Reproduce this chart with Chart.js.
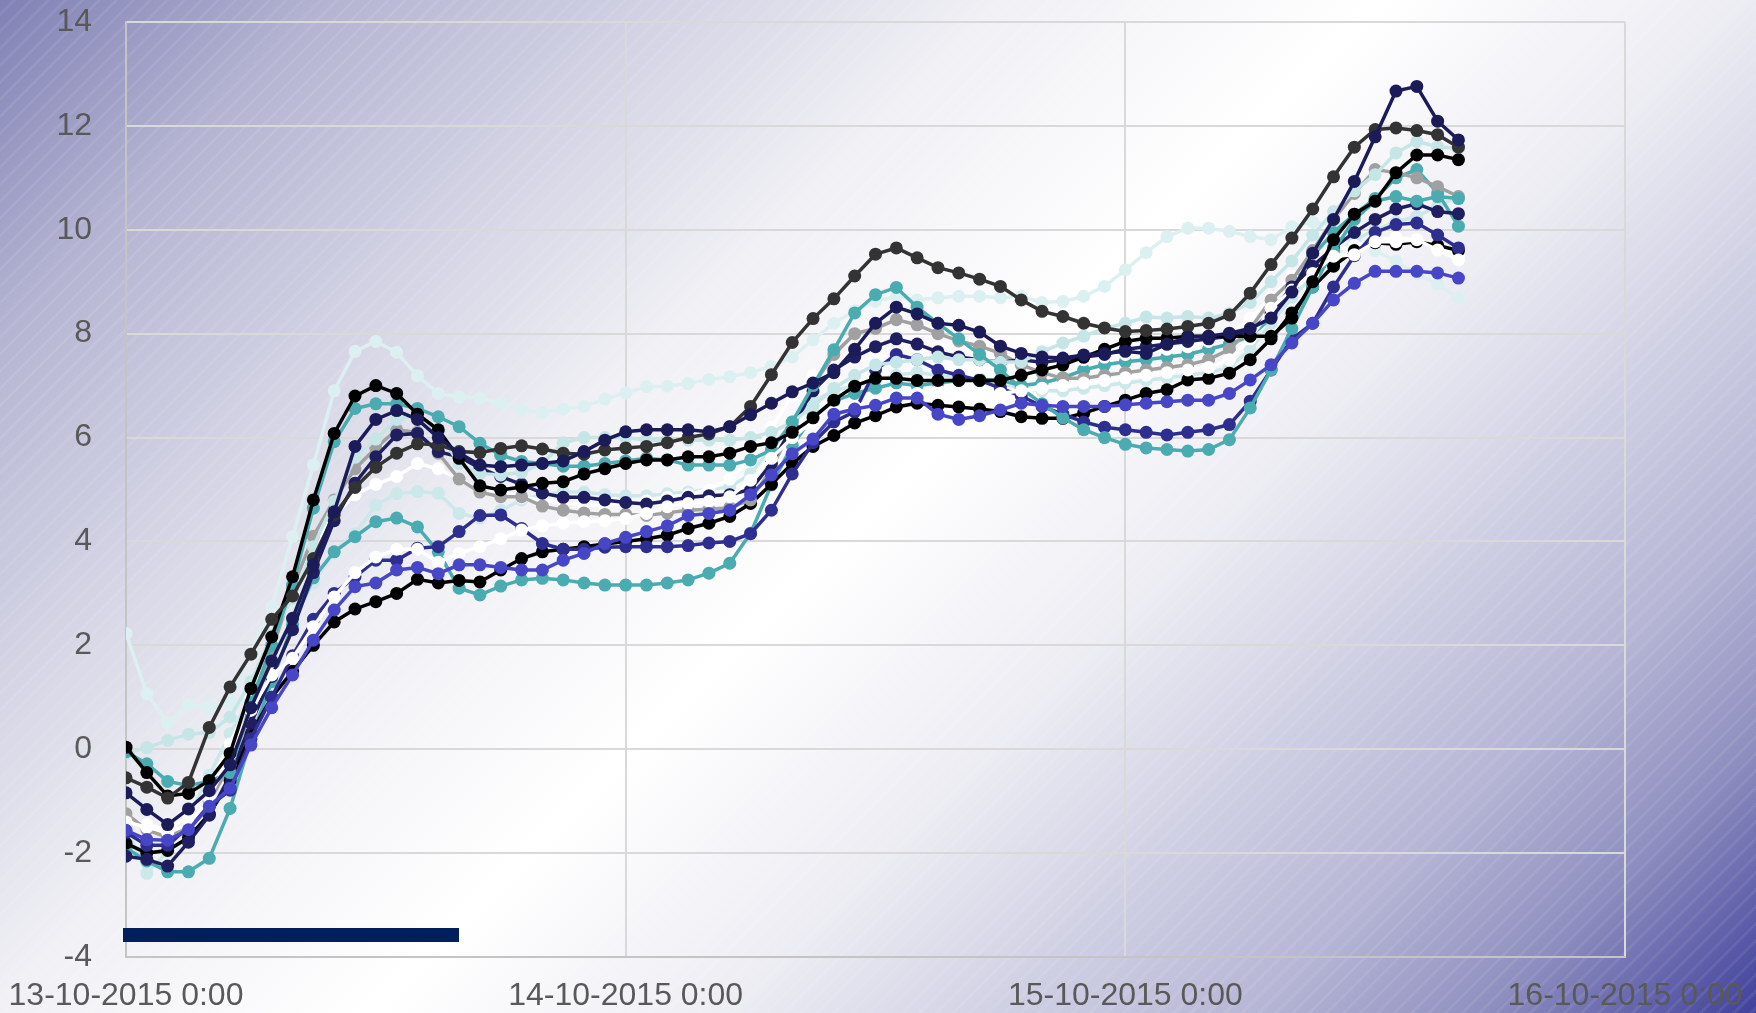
<!DOCTYPE html>
<html>
<head>
<meta charset="utf-8">
<script src="https://cdn.jsdelivr.net/npm/chart.js@4.4.0/dist/chart.umd.min.js"></script>
<style>
  html, body { margin: 0; padding: 0; overflow: hidden; }
  body {
    width: 1756px;
    height: 1013px;
    background:
      repeating-linear-gradient(135deg, rgba(255,255,255,0) 0px, rgba(255,255,255,0) 9px, rgba(255,255,255,0.07) 9px, rgba(255,255,255,0.07) 12px),
      linear-gradient(135deg, #8080b5 0%, #b4b4d2 12%, #f0f0f5 36%, #ffffff 50%, #ececf3 63%, #b5b5d5 82%, #9090c0 90%, #40409c 100%);
  }
  #wrap { position: relative; width: 1756px; height: 1013px; }
</style>
</head>
<body>
<div id="wrap"><canvas id="chart" width="1756" height="1013"></canvas></div>
<script>
// ----------------------------- Data -----------------------------------------
// hours since 13-10-2015 0:00
const hours = [0,1,2,3,4,5,6,7,8,9,10,11,12,13,14,15,16,17,18,19,20,21,22,23,24,
  25,26,27,28,29,30,31,32,33,34,35,36,37,38,39,40,41,42,43,44,45,46,47,48,49,
  50,51,52,53,54,55,56,57,58,59,60,61,62,63,64];

const xTickLabels = ["13-10-2015 0:00", "14-10-2015 0:00", "15-10-2015 0:00", "16-10-2015 0:00"];

const darkGray = [-0.55,-0.73,-0.94,-0.64,0.42,1.20,1.83,2.50,2.95,3.67,
  4.51,5.04,5.43,5.70,5.88,5.86,5.73,5.71,5.79,5.84,
  5.78,5.70,5.68,5.76,5.80,5.83,5.90,6.00,6.07,6.21,
  6.60,7.21,7.83,8.29,8.67,9.11,9.53,9.65,9.46,9.27,
  9.17,9.05,8.91,8.65,8.43,8.33,8.20,8.11,8.04,8.06,
  8.09,8.14,8.20,8.36,8.78,9.33,9.84,10.40,11.02,11.59,
  11.93,11.96,11.91,11.83,11.59];

const paleCyan = [2.23,1.07,0.51,0.85,0.80,0.90,1.87,2.75,4.09,5.47,
  6.90,7.66,7.85,7.64,7.19,6.85,6.78,6.76,6.66,6.53,
  6.48,6.55,6.60,6.74,6.86,6.98,6.99,7.04,7.12,7.17,
  7.25,7.37,7.55,7.88,8.20,8.44,8.62,8.72,8.65,8.69,
  8.72,8.72,8.69,8.72,8.60,8.62,8.72,8.91,9.23,9.56,
  9.87,10.03,10.03,9.97,9.87,9.81,10.06,10.15,10.10,9.90,
  9.60,9.40,9.15,8.95,8.68];

const blackA = [0.04,-0.45,-0.90,-0.85,-0.60,-0.08,1.17,2.16,3.32,4.80,
  6.08,6.80,7.00,6.85,6.45,6.15,5.60,5.07,4.99,5.05,
  5.12,5.15,5.30,5.40,5.50,5.57,5.57,5.63,5.63,5.70,
  5.83,5.90,6.10,6.38,6.72,6.99,7.14,7.14,7.10,7.10,
  7.10,7.10,7.10,7.20,7.30,7.40,7.55,7.70,7.85,7.91,
  7.91,7.95,7.95,7.95,7.95,7.95,8.30,9.00,9.81,10.30,
  10.55,11.10,11.44,11.44,11.35];

const blackB = [-1.81,-2.00,-1.95,-1.70,-1.25,-0.60,0.30,1.00,1.50,2.00,
  2.45,2.70,2.84,3.00,3.27,3.20,3.25,3.22,3.45,3.67,
  3.80,3.85,3.90,3.95,4.00,4.05,4.12,4.25,4.35,4.48,
  4.73,5.10,5.50,5.83,6.04,6.28,6.42,6.59,6.66,6.62,
  6.59,6.55,6.50,6.40,6.37,6.37,6.47,6.60,6.72,6.85,
  6.92,7.11,7.14,7.24,7.50,7.90,8.40,8.90,9.30,9.60,
  9.75,9.72,9.77,9.70,9.60];

const tealA = [-0.05,-0.28,-0.62,-0.70,-0.62,-0.45,0.90,2.00,3.16,4.64,
  5.92,6.56,6.65,6.65,6.56,6.40,6.21,5.89,5.66,5.54,
  5.50,5.45,5.45,5.50,5.55,5.60,5.57,5.47,5.47,5.47,
  5.57,5.76,6.30,7.00,7.69,8.40,8.75,8.89,8.51,8.20,
  7.90,7.60,7.30,6.95,6.65,6.38,6.15,6.00,5.87,5.80,
  5.77,5.74,5.77,5.96,6.57,7.30,8.10,8.90,9.60,10.20,
  10.55,10.64,10.55,10.64,10.60];

const tealB = [-1.90,-2.15,-2.36,-2.36,-2.10,-1.14,0.20,1.30,2.40,3.30,
  3.80,4.09,4.38,4.45,4.28,3.80,3.10,2.97,3.14,3.26,
  3.29,3.26,3.20,3.16,3.16,3.16,3.20,3.26,3.39,3.58,
  4.16,5.09,5.85,6.40,6.70,6.85,6.95,7.05,7.00,7.05,
  7.10,7.12,7.11,7.00,7.05,7.15,7.30,7.40,7.46,7.50,
  7.55,7.60,7.70,7.80,7.95,8.30,8.90,9.50,9.95,10.30,
  10.60,11.00,11.16,10.71,10.07];

const navyA = [-0.84,-1.16,-1.45,-1.15,-0.80,-0.30,0.80,1.70,2.52,3.55,
  4.57,5.83,6.35,6.52,6.35,6.00,5.70,5.47,5.44,5.47,
  5.50,5.55,5.73,5.95,6.11,6.15,6.15,6.15,6.11,6.21,
  6.44,6.66,6.88,7.05,7.25,7.70,8.20,8.51,8.38,8.20,
  8.16,8.03,7.76,7.62,7.55,7.53,7.59,7.62,7.66,7.62,
  7.80,7.93,7.95,8.01,8.10,8.30,8.80,9.55,10.20,10.93,
  11.79,12.67,12.76,12.09,11.73];

const navyB = [-2.06,-2.12,-2.25,-1.79,-1.27,-0.50,0.50,1.40,2.30,3.40,
  4.40,5.12,5.63,6.05,6.08,5.73,5.63,5.41,5.25,5.10,
  4.93,4.85,4.85,4.80,4.75,4.72,4.78,4.85,4.88,4.90,
  5.00,5.50,6.20,6.90,7.30,7.55,7.75,7.90,7.80,7.65,
  7.55,7.50,7.45,7.50,7.45,7.50,7.55,7.60,7.70,7.75,
  7.80,7.85,7.90,7.95,8.05,8.40,8.90,9.30,9.65,9.95,
  10.20,10.40,10.50,10.35,10.31];

const gray = [-1.24,-1.55,-1.70,-1.50,-1.00,-0.30,0.70,1.90,3.10,4.10,
  4.80,5.40,5.80,6.15,6.10,5.70,5.20,4.95,4.86,4.86,
  4.68,4.60,4.55,4.52,4.52,4.50,4.55,4.60,4.62,4.65,
  4.80,5.40,6.20,7.00,7.60,8.00,8.10,8.27,8.17,8.00,
  7.86,7.76,7.62,7.40,7.25,7.14,7.14,7.20,7.25,7.30,
  7.35,7.40,7.50,7.70,8.10,8.65,9.03,9.60,10.20,10.70,
  11.16,11.10,11.00,10.83,10.64];

const whiteA = [-1.40,-1.50,-1.60,-1.45,-0.95,-0.10,0.75,1.43,1.75,2.36,
  2.93,3.40,3.70,3.85,3.85,3.60,3.77,3.90,4.05,4.22,
  4.30,4.35,4.38,4.40,4.44,4.54,4.67,4.73,4.77,4.86,
  5.18,5.60,6.00,6.30,6.50,6.60,6.70,6.80,6.85,6.90,
  6.85,6.80,6.85,6.90,6.95,7.00,7.05,7.10,7.15,7.20,
  7.25,7.30,7.35,7.50,7.90,8.49,8.84,9.16,9.49,9.52,
  9.77,9.77,9.81,9.61,9.42];

const whiteB = [-1.35,-1.45,-1.55,-1.30,-0.70,0.10,1.00,2.00,3.00,3.90,
  4.50,4.90,5.10,5.25,5.50,5.40,5.20,5.00,4.95,4.85,
  4.80,4.75,4.70,4.70,4.72,4.78,4.85,4.90,5.00,5.20,
  5.60,6.20,6.80,7.20,7.40,7.50,7.55,7.60,7.55,7.45,
  7.40,7.35,7.30,7.35,7.40,7.45,7.50,7.55,7.60,7.65,
  7.70,7.75,7.85,8.00,8.30,8.70,9.10,9.40,9.60,9.70,
  9.80,9.85,9.80,9.70,9.50];

const blue = [-1.56,-1.74,-1.75,-1.55,-1.10,-0.75,0.08,0.80,1.43,2.10,
  2.68,3.13,3.20,3.45,3.50,3.38,3.55,3.55,3.50,3.45,
  3.45,3.64,3.77,3.96,4.08,4.19,4.30,4.50,4.54,4.60,
  4.90,5.28,5.69,5.97,6.45,6.55,6.62,6.76,6.76,6.45,
  6.35,6.42,6.53,6.66,6.62,6.60,6.60,6.60,6.63,6.66,
  6.69,6.72,6.72,6.85,7.11,7.40,7.82,8.20,8.65,8.97,
  9.20,9.20,9.20,9.17,9.07];

const indigo = [-1.60,-1.85,-1.85,-1.50,-1.10,-0.79,0.20,1.00,1.80,2.50,
  3.00,3.32,3.64,3.64,3.87,3.90,4.19,4.50,4.51,4.25,
  3.96,3.85,3.85,3.89,3.90,3.90,3.90,3.92,3.97,4.00,
  4.15,4.60,5.30,5.90,6.30,6.50,7.30,7.60,7.50,7.30,
  7.20,7.10,6.95,6.80,6.60,6.45,6.30,6.20,6.15,6.10,
  6.05,6.10,6.15,6.25,6.70,7.30,7.90,8.20,8.90,9.50,
  9.95,10.10,10.13,9.90,9.65];

const lightCyanA = [-0.08,0.03,0.17,0.29,0.32,0.62,1.30,2.20,2.90,3.90,
  4.77,5.62,5.97,6.35,6.44,6.10,5.50,5.31,5.28,5.33,
  5.50,5.90,6.00,6.00,6.00,5.95,5.95,5.95,5.95,5.95,
  6.00,6.10,6.30,6.60,6.95,7.20,7.40,7.45,7.50,7.55,
  7.50,7.50,7.45,7.46,7.65,7.82,7.95,8.10,8.20,8.32,
  8.30,8.33,8.30,8.39,8.60,9.00,9.40,9.90,10.35,10.75,
  11.06,11.48,11.70,11.60,11.57];

const lightCyanB = [-1.50,-2.39,-1.97,-1.30,-0.50,0.30,1.00,1.80,2.50,3.20,
  3.80,4.15,4.70,4.92,4.96,4.93,4.54,4.45,4.60,4.80,
  4.90,4.95,4.95,4.90,4.88,4.88,4.92,4.95,5.00,5.05,
  5.30,5.80,6.30,6.70,6.90,7.00,7.10,7.20,7.25,7.20,
  7.15,7.10,7.05,6.95,6.90,6.90,6.95,7.00,7.05,7.10,
  7.15,7.20,7.25,7.35,7.70,8.20,8.70,9.10,9.50,9.80,
  10.00,10.15,10.26,10.45,10.64];

// ----------------------------- Chart ----------------------------------------
Chart.defaults.font.family = "'Liberation Sans', Arial, Helvetica, sans-serif";
Chart.defaults.font.size = 32;
Chart.defaults.color = "#595959";

function series(values, color) {
    return {
        data: hours.map((h, i) => ({ x: h, y: values[i] })),
        borderColor: color,
        backgroundColor: color,
        pointBackgroundColor: color,
        pointBorderWidth: 0,
        pointRadius: 6.5,
        pointHoverRadius: 6.5,
        borderWidth: 3.5,
        tension: 0,
        fill: false,
    };
}

// dark bar sitting in the lower left corner of the plot
const cornerBar = {
    id: "cornerBar",
    afterDraw(chart) {
        const { ctx, chartArea } = chart;
        ctx.save();
        ctx.fillStyle = "#001f5c";
        ctx.fillRect(chartArea.left - 3, chartArea.bottom - 29, 336, 14);
        ctx.restore();
    },
};

// first dataset is painted last (on top)
const datasets = [
    series(navyA, "#1b1b5a"),
    series(darkGray, "#333333"),
    series(blackA, "#000000"),
    series(blue, "#4646c6"),
    series(whiteA, "#ffffff"),
    series(tealA, "#4aabb0"),
    series(lightCyanA, "#c6e5e7"),
    series(indigo, "#2e2e90"),
    series(navyB, "#1e1e60"),
    series(gray, "#a0a0a0"),
    series(blackB, "#000000"),
    series(whiteB, "#ffffff"),
    series(tealB, "#4aabb0"),
    series(lightCyanB, "#cde8ea"),
    series(paleCyan, "#ddf0f1"),
];

new Chart(document.getElementById("chart"), {
    type: "line",
    data: { datasets },
    options: {
        responsive: false,
        devicePixelRatio: 1,
        animation: false,
        events: [],
        layout: { padding: { top: 22, right: 131, left: 0, bottom: 0 } },
        plugins: { legend: { display: false }, tooltip: { enabled: false } },
        scales: {
            x: {
                type: "linear",
                min: 0,
                max: 72,
                ticks: {
                    stepSize: 24,
                    autoSkip: false,
                    maxRotation: 0,
                    padding: 20,
                    callback: (v) => xTickLabels[v / 24],
                },
                grid: { color: "#d9d9d9", lineWidth: 2, drawTicks: false },
                border: { color: "#c4c4c4", width: 2 },
                afterFit: (s) => { s.height = 56; s.paddingLeft = 0; s.paddingRight = 0; },
            },
            y: {
                min: -4,
                max: 14,
                ticks: { stepSize: 2, padding: 34, callback: (v) => String(v) },
                grid: { color: "#d9d9d9", lineWidth: 2, drawTicks: false },
                border: { color: "#c4c4c4", width: 2 },
                afterFit: (s) => { s.width = 126; s.paddingTop = 0; s.paddingBottom = 0; },
            },
        },
    },
    plugins: [cornerBar],
});
</script>
</body>
</html>
